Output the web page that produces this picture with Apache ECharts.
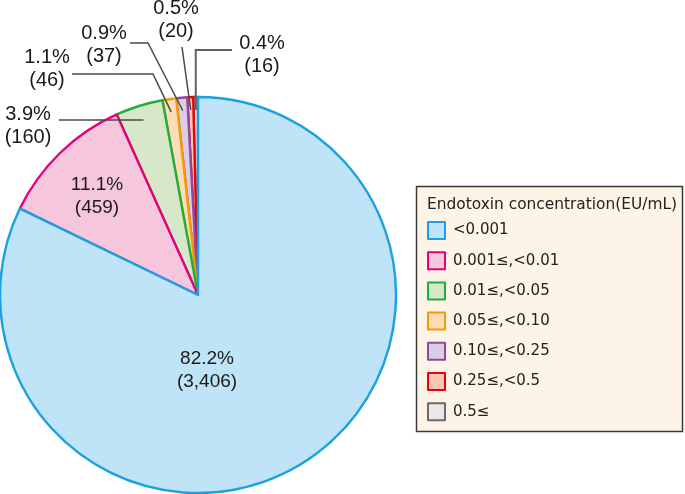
<!DOCTYPE html>
<html>
<head>
<meta charset="utf-8">
<script src="https://cdn.jsdelivr.net/npm/echarts@6/dist/echarts.min.js"></script>
<style>
html,body{margin:0;padding:0;background:#fff;}
#c{width:685px;height:494px;}
</style>
</head>
<body>
<div id="c"></div>
<script>
// ---- data ----
const categories = ['<0.001', '0.001≤,<0.01', '0.01≤,<0.05', '0.05≤,<0.10', '0.10≤,<0.25', '0.25≤,<0.5', '0.5≤'];
const counts = [3406, 459, 160, 46, 37, 20, 16];
const legendTitle = 'Endotoxin concentration(EU/mL)';

// ---- styles ----
const fills   = ['#bfe3f7', '#f6c6dd', '#d6e8c8', '#fcdcb9', '#dacde6', '#f9c8ae', '#e8e8e8'];
const borders = ['#19a1e0', '#e5007f', '#1fae3c', '#f59a00', '#93479b', '#e60012', '#6a6a6a'];
const PIE_CX = 198, PIE_CY = 295, PIE_R = 198;
// label placement (label centre) and leader-line anchors near each label
const labelSpots = {
  '<0.001':        { pos: [207, 370], size: 19 },
  '0.001≤,<0.01':  { pos: [97, 196], size: 19 },
  '0.01≤,<0.05':   { pos: [28, 126], size: 20, line: [[59, 120]], horiz: true },
  '0.05≤,<0.10':   { pos: [47, 69],  size: 20, line: [[72, 74], [153, 74]] },
  '0.10≤,<0.25':   { pos: [104, 45], size: 20, line: [[130, 43], [148, 43]] },
  '0.25≤,<0.5':    { pos: [176, 20], size: 20, line: [[182, 47]] },
  '0.5≤':          { pos: [262, 55], size: 20, line: [[232, 50]], dropX: true }
};

const chart = echarts.init(document.getElementById('c'), null, {renderer: 'canvas'});

// data drawn in reverse order (counter-clockwise) so the large slice's border is on top
const pieData = categories.map((name, i) => ({
  name: name,
  value: counts[i],
  itemStyle: { color: fills[i], borderColor: borders[i], borderWidth: 2.4 },
  label: { position: i < 2 ? 'inside' : 'outside', fontSize: labelSpots[name].size },
  labelLine: { show: false }
})).reverse();

const baseGraphic = [
  { id: 'legendBox', type: 'rect', z: 0, shape: { x: 416.5, y: 186.5, width: 266, height: 245 },
    style: { fill: '#fdf3e7', stroke: '#3a3a3a', lineWidth: 1.5 } },
  { id: 'legendTitle', type: 'text', z: 5, left: 427, top: 197,
    style: { text: legendTitle, font: '15.4px "DejaVu Sans"', fill: '#222' } }
];

const option = {
  animation: false,
  backgroundColor: '#ffffff',
  graphic: baseGraphic,
  legend: {
    orient: 'vertical',
    left: 427,
    top: 221,
    padding: 0,
    itemWidth: 17,
    itemHeight: 17,
    itemGap: 11.2,
    icon: 'rect',
    selectedMode: false,
    textStyle: { fontFamily: 'DejaVu Sans', fontSize: 15, color: '#222', lineHeight: 17, padding: [0, 0, 0, 3] },
    data: categories.map((name, i) => ({ name: name, itemStyle: { borderColor: borders[i], borderWidth: 2 } }))
  },
  series: [{
    type: 'pie',
    center: [PIE_CX, PIE_CY],
    radius: PIE_R,
    startAngle: 90,
    clockwise: false,
    silent: true,
    avoidLabelOverlap: false,
    data: pieData,
    label: {
      show: true,
      color: '#1a1a1a',
      fontFamily: 'Liberation Sans',
      fontSize: 19,
      lineHeight: 23,
      align: 'center',
      formatter: p => p.percent.toFixed(1) + '%\n(' + p.value.toLocaleString('en-US') + ')'
    },
    labelLayout: function (params) {
      const spot = labelSpots[pieData[params.dataIndex].name];
      return { x: spot.pos[0], y: spot.pos[1], align: 'center', verticalAlign: 'middle' };
    }
  }]
};
chart.setOption(option);

// leader lines, built from the library's own sector layout
const sData = chart.getModel().getSeriesByIndex(0).getData();
const lines = [];
for (let i = 0; i < sData.count(); i++) {
  const spot = labelSpots[sData.getName(i)];
  if (!spot.line) continue;
  const lay = sData.getItemLayout(i);
  const ang = (lay.startAngle + lay.endAngle) / 2;
  const rr = lay.r * 0.935;
  let end = [lay.cx + Math.cos(ang) * rr, lay.cy + Math.sin(ang) * rr];
  if (spot.horiz) {
    const y = spot.line[0][1];
    end = [lay.cx + (y - lay.cy) * Math.cos(ang) / Math.sin(ang), y];
  }
  const pts = [];
  for (let k = 0; k < spot.line.length; k++) pts.push(spot.line[k]);
  if (spot.dropX) pts.push([end[0], spot.line[0][1]]);
  pts.push(end);
  lines.push({
    id: 'lead' + i, type: 'polyline', z: 100, silent: true,
    shape: { points: pts },
    style: { stroke: spot.dropX ? '#5f5f5f' : '#4a4a4a', lineWidth: spot.dropX ? 2 : 1.5, fill: null }
  });
}
chart.setOption({ graphic: baseGraphic.concat(lines) });
</script>
</body>
</html>
